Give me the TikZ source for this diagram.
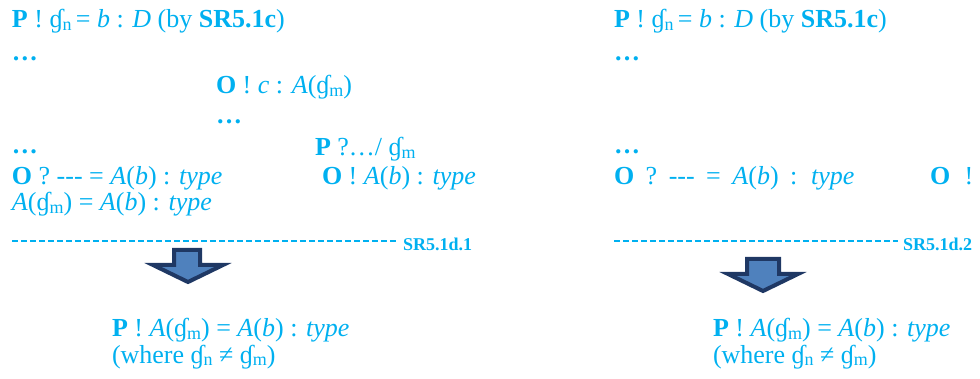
\documentclass[tikz,border=0pt]{standalone}
\usepackage{fontspec}
\setmainfont{Liberation Serif}
\definecolor{txt}{RGB}{0,176,240}
\definecolor{arrfill}{RGB}{79,129,189}
\definecolor{arrline}{RGB}{31,56,100}
\newcommand\gsym{ɠ}
\newcommand\mysub[1]{\raisebox{-2.5pt}{\fontsize{18}{18}\selectfont #1}}
\newcommand\gnn{\gsym\mysub{n}}
\newcommand\gmm{\gsym\mysub{m}}
\newcommand\wsp{\hspace{5pt} }
\begin{document}
\begin{tikzpicture}[x=1pt,y=1pt,
  every node/.style={inner sep=0pt, outer sep=0pt, anchor=base west, text=txt, font=\fontsize{26}{30}\selectfont},
  tag/.style={font=\fontsize{18}{20}\selectfont\bfseries, anchor=west},
  sep/.style={draw=txt, line width=1.8pt, dash pattern=on 6pt off 3pt},
  bigarrow/.style={fill=arrfill, draw=arrline, line width=4pt, line join=miter}]
\useasboundingbox (0,0) rectangle (980,-379);
% left column
\node (l1) at (12,-28) {\textbf{P} ! \gnn\,= \textit{b} : \textit{D} (by \textbf{SR5.1c})};
\node (l2) at (12,-61) {\textbf{…}};
\node (l3) at (216,-94) {\textbf{O} ! \textit{c} : \textit{A}(\gmm)};
\node (l4) at (216,-124) {\textbf{…}};
\node (l5) at (12,-154) {\textbf{…}};
\node (l6) at (315,-156) {\textbf{P} ?…/ \gmm};
\node (l7) at (12,-185) {\textbf{O} ? -{}-{}- = \textit{A}(\textit{b}) : \textit{type}};
\node (l8) at (322,-185) {\textbf{O} ! \textit{A}(\textit{b}) : \textit{type}};
\node (l9) at (12,-211) {\textit{A}(\gmm) = \textit{A}(\textit{b}) : \textit{type}};
\coordinate (d1a) at (12,-241);
\coordinate (d1b) at (398,-241);
\draw[sep] (d1a) -- (d1b);
\node[tag] (t1) at (403,-244) {SR5.1d.1};
\draw[bigarrow] (174,-250) -- (200,-250) -- (200,-265) -- (223,-265) -- (188,-282) -- (153,-265) -- (174,-265) -- cycle;
\node (l10) at (112,-337) {\textbf{P} ! \textit{A}(\gmm) = \textit{A}(\textit{b}) : \textit{type}};
\node (l11) at (112,-363) {(where \gnn\ ≠ \gmm)};
% right column
\node (r1) at (614,-28) {\textbf{P} ! \gnn\,= \textit{b} : \textit{D} (by \textbf{SR5.1c})};
\node (r2) at (614,-61) {\textbf{…}};
\node (r5) at (614,-154) {\textbf{…}};
\node (r7) at (614,-185) {\textbf{O}\wsp?\wsp-{}-{}-\wsp=\wsp\textit{A}(\textit{b})\wsp:\wsp\textit{type}};
\node (r8) at (930,-185) {\textbf{O}\hspace{8pt} !};
\coordinate (d2a) at (614,-241);
\coordinate (d2b) at (898,-241);
\draw[sep] (d2a) -- (d2b);
\node[tag] (t2) at (903,-244) {SR5.1d.2};
\draw[bigarrow] (747,-259) -- (779,-259) -- (779,-274) -- (798,-274) -- (763,-291) -- (728,-274) -- (747,-274) -- cycle;
\node (r10) at (713,-337) {\textbf{P} ! \textit{A}(\gmm) = \textit{A}(\textit{b}) : \textit{type}};
\node (r11) at (713,-363) {(where \gnn\ ≠ \gmm)};
\end{tikzpicture}
\end{document}
